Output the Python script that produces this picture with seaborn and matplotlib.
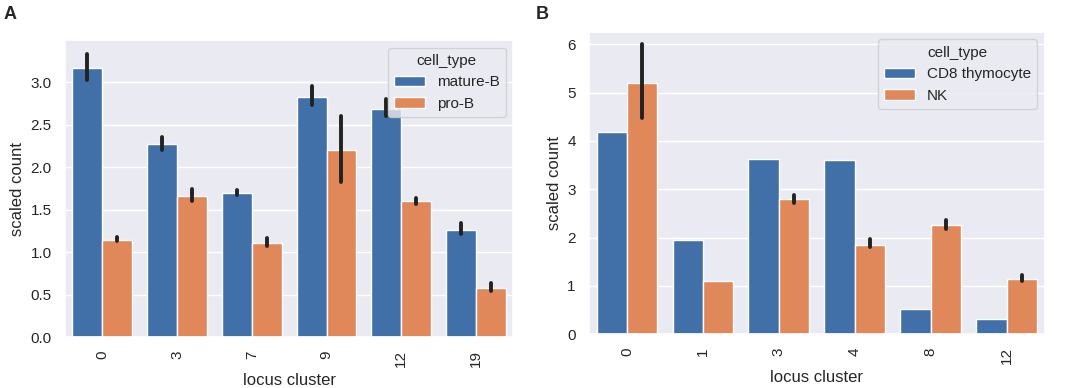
import numpy as np
import pandas as pd
import matplotlib
matplotlib.use('Agg')
import matplotlib.pyplot as plt
import seaborn as sns

# ── Panel A: B-cell loci ─────────────────────────────────────
a_clusters = ['0', '3', '7', '9', '12', '19']
a_types = ['mature-B', 'pro-B']
a_mature = [3.17, 2.27, 1.70, 2.83, 2.69, 1.26]
a_mature_lo = [3.03, 2.20, 1.68, 2.73, 2.60, 1.21]
a_mature_hi = [3.34, 2.36, 1.73, 2.96, 2.81, 1.34]
a_pro = [1.15, 1.66, 1.11, 2.20, 1.60, 0.58]
a_pro_lo = [1.13, 1.60, 1.07, 1.83, 1.565, 0.54]
a_pro_hi = [1.18, 1.75, 1.17, 2.60, 1.64, 0.64]

# ── Panel B: T/NK loci ───────────────────────────────────────
b_clusters = ['0', '1', '3', '4', '8', '12']
b_types = ['CD8 thymocyte', 'NK']
b_cd8 = [4.19, 1.94, 3.63, 3.61, 0.52, 0.32]
b_cd8_lo = b_cd8
b_cd8_hi = b_cd8
b_nk = [5.20, 1.09, 2.80, 1.85, 2.25, 1.15]
b_nk_lo = [4.48, 1.09, 2.72, 1.80, 2.17, 1.09]
b_nk_hi = [6.00, 1.09, 2.88, 1.97, 2.37, 1.23]


def long_table(clusters, types, series):
    # each bar -> three rows (lo, value, hi); median gives the bar, min/max the error bar
    rows = []
    for ctype, (vals, lo, hi) in zip(types, series):
        for c, v, l, h in zip(clusters, vals, lo, hi):
            for y in (l, v, h):
                rows.append({'locus cluster': c, 'cell_type': ctype, 'scaled count': y})
    return pd.DataFrame(rows)


df_a = long_table(a_clusters, a_types, [(a_mature, a_mature_lo, a_mature_hi),
                                        (a_pro, a_pro_lo, a_pro_hi)])
df_b = long_table(b_clusters, b_types, [(b_cd8, b_cd8_lo, b_cd8_hi),
                                        (b_nk, b_nk_lo, b_nk_hi)])

sns.set_theme(style='darkgrid')
plt.rcParams['font.family'] = ['Liberation Sans', 'DejaVu Sans']
palette = ['#4170A8', '#E0885A']

fig = plt.figure(figsize=(10.65, 3.88), dpi=100)
ax_a = fig.add_axes([0.061, 0.131, 0.421, 0.766])
ax_b = fig.add_axes([0.553, 0.139, 0.428, 0.779])

for ax, df, order, ylim in [(ax_a, df_a, a_clusters, 3.5), (ax_b, df_b, b_clusters, 6.26)]:
    sns.barplot(data=df, x='locus cluster', y='scaled count', hue='cell_type',
                order=order, palette=palette, saturation=1, estimator=np.median,
                errorbar=lambda v: (v.min(), v.max()),
                err_kws={'linewidth': 2.8, 'color': '#222222'}, ax=ax)
    ax.set_ylim(0, ylim)
    ax.tick_params(axis='x', rotation=90, labelsize=11)
    ax.tick_params(axis='y', labelsize=11)
    ax.set_xlabel('locus cluster', fontsize=12)
    ax.set_ylabel('scaled count', fontsize=12)
    sns.move_legend(ax, 'upper right', title='cell_type', fontsize=11, title_fontsize=11)

ax_a.set_yticks([0, 0.5, 1.0, 1.5, 2.0, 2.5, 3.0])
ax_b.set_yticks([0, 1, 2, 3, 4, 5, 6])

fig.text(0.003, 0.963, 'A', fontsize=13, fontweight='bold', va='center')
fig.text(0.503, 0.963, 'B', fontsize=13, fontweight='bold', va='center')

plt.savefig('out.png', dpi=100)
plt.close()
